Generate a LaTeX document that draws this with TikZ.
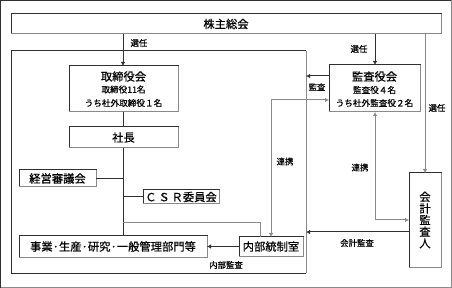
\documentclass[tikz,border=0pt]{standalone}
\usepackage{fontspec}
\setmainfont{Noto Sans CJK JP}[FakeBold=0.6]
\usetikzlibrary{arrows.meta}
\definecolor{dk}{HTML}{303030}
\definecolor{lg}{HTML}{8A8A8A}
\begin{document}
\begin{tikzpicture}[x=1pt,y=-1pt,
  box/.style={draw=dk, line width=1pt, inner sep=0pt, outer sep=0pt, fill=white},
  big/.style={font=\fontsize{11.3}{12}\selectfont},
  sub/.style={font=\fontsize{8.6}{10}\selectfont},
  lbl/.style={font=\fontsize{8.4}{10}\selectfont, inner sep=0pt},
  conn/.style={draw=dk, line width=1pt},
  gconn/.style={draw=lg, line width=1pt},
  arr/.style={-{Latex[length=4pt,width=4.5pt]}},
  arrb/.style={{Latex[length=4pt,width=4.5pt]}-{Latex[length=4pt,width=4.5pt]}}
]
\useasboundingbox (0,0) rectangle (452,288);
% outer frame
\draw[dk, line width=1pt] (0.5,287.5) -- (0.5,0.5) -- (451.5,0.5);
\draw[lg, line width=1pt] (451.5,0.5) -- (451.5,287.5) -- (0.5,287.5);
% inner frame
\draw[dk, line width=1pt] (306,273) -- (11,273) -- (11,51) -- (306,51);
\draw[lg, line width=1pt] (306,51) -- (306,273);

% boxes
\node[box, anchor=north west, minimum width=430pt, minimum height=20pt] (gm) at (11,14) {};
\node[big] at (gm.center) {株主総会};

\node[box, anchor=north west, minimum width=109pt, minimum height=46pt] (bd) at (69,66) {};
\node[big, inner sep=0pt] at (123.5,76.5) {取締役会};
\node[sub, inner sep=0pt] at (123.5,89.5) {取締役11名};
\node[sub, inner sep=0pt] at (123.5,103) {うち社外取締役１名};

\node[box, anchor=north west, minimum width=109pt, minimum height=21pt] (pr) at (69,127) {};
\node[big] at (pr.center) {社長};

\node[box, anchor=north west, minimum width=77pt, minimum height=17pt] (ms) at (19,170) {};
\node[big] at (ms.center) {経営審議会};

\node[box, anchor=north west, minimum width=76pt, minimum height=14pt] (csr) at (143,190) {};
\node[big] at (csr.center) {Ｃ\,Ｓ\,Ｒ委員会};

\node[box, anchor=north west, minimum width=188pt, minimum height=21pt] (biz) at (19,236) {};
\node[big] at (biz.center) {事業·生産·研究·一般管理部門等};

\node[box, anchor=north west, minimum width=64pt, minimum height=19pt] (ic) at (239,237) {};
\node[big] at (ic.center) {内部統制室};

\node[box, anchor=north west, minimum width=91pt, minimum height=47pt] (ac) at (329,65) {};
\node[big, inner sep=0pt] at (374.5,76.5) {監査役会};
\node[sub, inner sep=0pt] at (374.5,90) {監査役４名};
\node[sub, inner sep=0pt] at (374.5,103) {うち社外監査役２名};

\node[box, anchor=north west, minimum width=32pt, minimum height=94pt] (ea) at (409,173) {};
\node[big, align=center, font=\fontsize{11.3}{11.6}\selectfont] at (ea.center) {会\\計\\監\\査\\人};

% emboss: gray right & bottom edges
\foreach \n in {gm,bd,pr,ms,csr,biz,ic,ac,ea}
  \draw[lg, line width=1pt] (\n.north east) -- (\n.south east) -- (\n.south west);

% tree
\coordinate (t1) at (123,179);
\coordinate (t2) at (123,197);
\coordinate (t3) at (123,223);
\draw[conn, arr] (gm.south -| bd.north) ++(-0.5,0) coordinate (g1) (g1) -- (g1 |- bd.north);
\draw[conn] (g1 |- bd.south) -- (g1 |- pr.north);
\draw[conn] (g1 |- pr.south) -- (g1 |- biz.north);
\draw[conn] (ms.east |- t1) -- (t1);
\draw[conn] (t2) -- (csr.west |- t2);
\draw[gconn] (t3) -- (260,223) coordinate (t4) -- (t4 |- ic.north);
\node[lbl] at (139,43) {選任};

% internal audit
\draw[conn, arr] (ic.west) -- (ic.west -| biz.east);
\node[lbl] at (226,265) {内部監査};

% renkei 1
\coordinate (r1) at (271,100);
\draw[gconn, arrb] (r1 |- ic.north) -- (r1) -- (r1 -| ac.west);
\node[lbl] at (285,161.5) {連携};

% kansa
\coordinate (k1) at (306,76);
\draw[conn, arr] (ac.west |- k1) -- (k1);
\node[lbl] at (317,87) {監査};

% senin 2
\coordinate (s2) at (375,34);
\draw[conn, arr] (s2) -- (s2 |- ac.north);
\node[lbl] at (359,49) {選任};

% renkei 2
\coordinate (r2) at (375,220);
\draw[gconn, arrb] (r2 |- ac.south) -- (r2) -- (r2 -| ea.west);
\node[lbl] at (360,167.5) {連携};

% senin 3
\coordinate (s3) at (425,34);
\draw[gconn, arr] (s3) -- (s3 |- ea.north);
\node[lbl] at (437,108) {選任};

% accounting audit
\coordinate (a1) at (306,232);
\draw[conn, arr] (ea.west |- a1) -- (a1);
\node[lbl] at (357,243) {会計監査};
\end{tikzpicture}
\end{document}
